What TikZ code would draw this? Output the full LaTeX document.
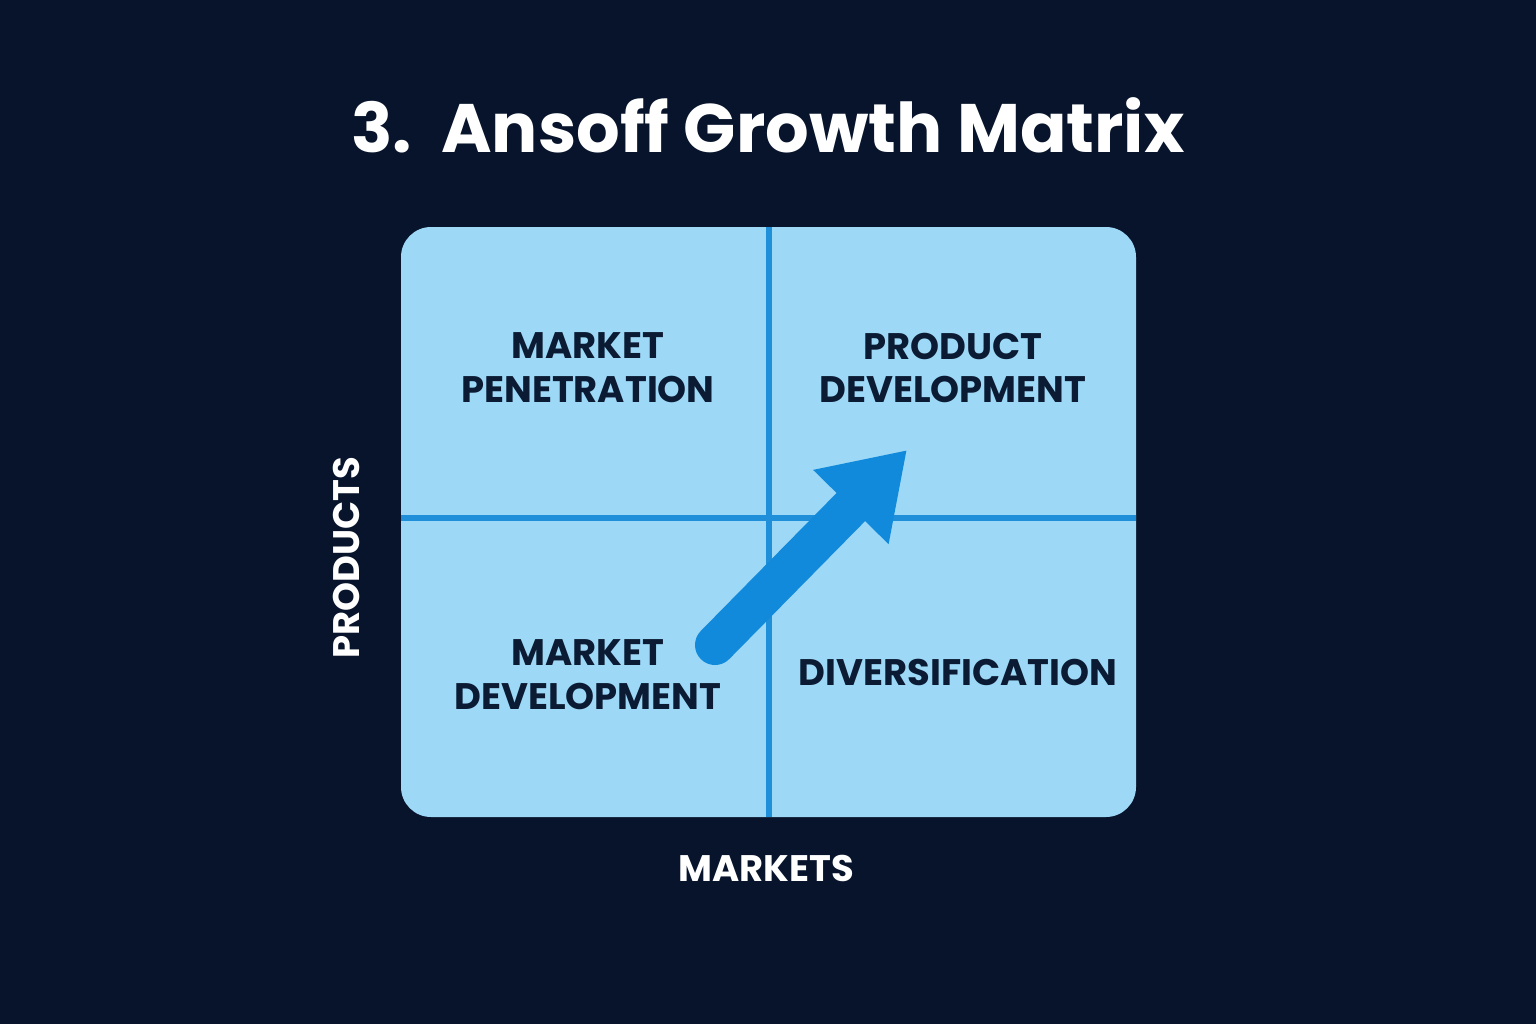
\documentclass[tikz,border=0pt]{standalone}
\usepackage{fontspec}
\setmainfont{Poppins}
\usetikzlibrary{arrows.meta}
\definecolor{navy}{HTML}{07142B}
\definecolor{cellblue}{HTML}{9DD8F7}
\definecolor{lineblue}{HTML}{1E8FD8}
\definecolor{arrowblue}{HTML}{128ADB}
\definecolor{inkblue}{HTML}{0B1B33}

\begin{document}
\begin{tikzpicture}[
    x=0.01cm, y=-0.01cm,
    quadlabel/.style={font=\fontsize{10.5}{12.5}\selectfont\bfseries, text=inkblue, align=center},
    axislabel/.style={font=\fontsize{10.5}{12.5}\selectfont\bfseries, text=white}
]
    \fill[navy] (0,0) rectangle (1536,1024);
    \useasboundingbox (0,0) rectangle (1536,1024);
    \node[font=\fontsize{19.5}{23}\selectfont\bfseries, text=white] (title) at (768,125) {3.\ \ Ansoff Growth Matrix};
    % matrix
    \fill[cellblue, rounded corners=0.3cm] (401,227) rectangle (1136,817);
    \coordinate (top) at (769,227);
    \coordinate (bottom) at (769,817);
    \coordinate (left) at (401,518);
    \coordinate (right) at (1136,518);
    \draw[lineblue, line width=0.065cm] (top) -- (bottom);
    \draw[lineblue, line width=0.065cm] (left) -- (right);
    \node[quadlabel] (pen) at (588,368) {MARKET\\PENETRATION};
    \node[quadlabel] (prod) at (953,368) {PRODUCT\\DEVELOPMENT};
    \node[quadlabel] (mdev) at (588,675) {MARKET\\DEVELOPMENT};
    \node[quadlabel] (div) at (958,672) {DIVERSIFICATION};
    % arrow
    \coordinate (from) at (715,645);
    \coordinate (to) at (907,450);
    \draw[arrowblue, line width=0.4cm, line cap=round, -{Triangle[width=1.0cm,length=0.8cm]}] (from) -- (to);
    % axes
    \node[axislabel, rotate=90] (products) at (346,558) {PRODUCTS};
    \node[axislabel] (markets) at (766,868) {MARKETS};
\end{tikzpicture}
\end{document}
